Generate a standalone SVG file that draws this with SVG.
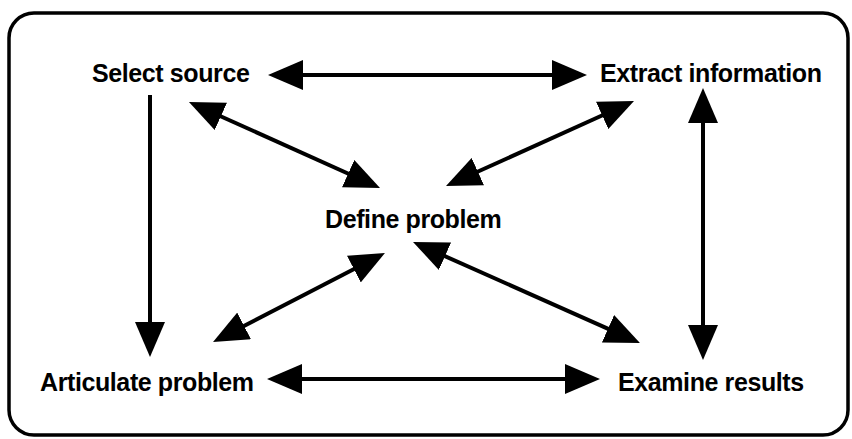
<svg xmlns="http://www.w3.org/2000/svg" width="852" height="439" viewBox="0 0 852 439">
  <style>
    .lbl { font-family: "Liberation Sans", Arial, Helvetica, sans-serif; font-weight: bold; font-size: 25px; letter-spacing: -0.4px; fill: #000; }
    .edge { stroke: #000; stroke-width: 4; fill: none; }
    .frame { stroke: #000; stroke-width: 3.5; fill: #fff; }
  </style>
  <defs>
    <marker id="ah" viewBox="0 0 35 30" refX="15" refY="15" markerWidth="35" markerHeight="30" markerUnits="userSpaceOnUse" orient="auto-start-reverse">
      <path d="M0,0 L35,15 L0,30 z" fill="#000"/>
    </marker>
  </defs>
  <rect width="852" height="439" fill="#fff"/>
  <rect class="frame" x="9" y="13" width="839" height="422" rx="25" ry="25"/>

  <g id="connectors">
    <line class="edge" x1="288" y1="75" x2="567" y2="75" marker-start="url(#ah)" marker-end="url(#ah)"/>
    <line class="edge" x1="287" y1="379" x2="580" y2="379" marker-start="url(#ah)" marker-end="url(#ah)"/>
    <line class="edge" x1="150" y1="95" x2="150" y2="337" marker-end="url(#ah)"/>
    <line class="edge" x1="703" y1="108" x2="703" y2="340" marker-start="url(#ah)" marker-end="url(#ah)"/>
    <line class="edge" x1="207.2" y1="110.2" x2="361.8" y2="179.8" marker-start="url(#ah)" marker-end="url(#ah)"/>
    <line class="edge" x1="615.8" y1="109.2" x2="464.2" y2="177.8" marker-start="url(#ah)" marker-end="url(#ah)"/>
    <line class="edge" x1="230.8" y1="332.8" x2="367.2" y2="262.2" marker-start="url(#ah)" marker-end="url(#ah)"/>
    <line class="edge" x1="431.3" y1="250.1" x2="621.7" y2="334.9" marker-start="url(#ah)" marker-end="url(#ah)"/>
  </g>

  <g id="select-source"><text class="lbl" x="92" y="82">Select source</text></g>
  <g id="extract-information"><text class="lbl" x="600" y="82">Extract information</text></g>
  <g id="define-problem"><text class="lbl" x="325" y="228">Define problem</text></g>
  <g id="articulate-problem"><text class="lbl" x="40" y="391">Articulate problem</text></g>
  <g id="examine-results"><text class="lbl" x="618" y="391">Examine results</text></g>
</svg>
